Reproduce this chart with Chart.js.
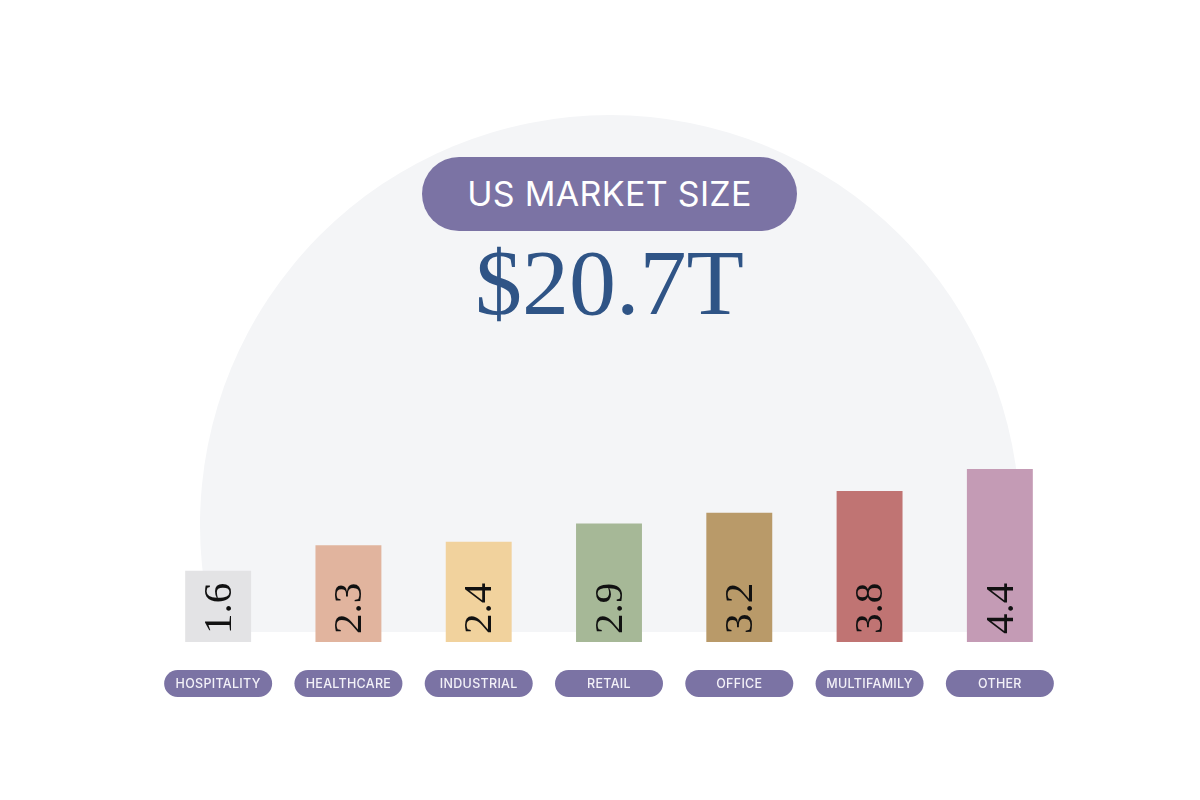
<!DOCTYPE html>
<html>
<head>
<meta charset="utf-8">
<script src="https://cdn.jsdelivr.net/npm/chart.js@4"></script>
<style>
  html, body { margin: 0; padding: 0; background: #ffffff; }
  #page { position: relative; width: 1200px; height: 800px; overflow: hidden; }
  #backdrop { position: absolute; left: 0; top: 0; width: 1200px; height: 632px; overflow: hidden; }
  #circle { position: absolute; left: 200px; top: 115px; width: 820px; height: 820px; border-radius: 50%; background: #f4f5f7; }
  #pill { position: absolute; left: 422px; top: 157px; width: 375px; height: 74px; border-radius: 37px; background: #7b73a4;
          color: #ffffff; font-family: Inter, "Open Sans", sans-serif; font-size: 34px; line-height: 74px; text-align: center; letter-spacing: 0.3px; }
  #total { position: absolute; left: 0; width: 1219px; top: 227px; text-align: center; color: #2f5486;
           font-family: "Liberation Serif", "DejaVu Serif", serif; font-size: 94px; line-height: 110px; }
  #chart { position: absolute; left: 0; top: 0; }
</style>
</head>
<body>
<div id="page">
  <div id="backdrop"><div id="circle"></div></div>
  <div id="pill">US MARKET SIZE</div>
  <div id="total">$20.7T</div>
  <canvas id="chart" width="1200" height="800"></canvas>
</div>
<script>
// Market size by sector ($T)
const categories = ["HOSPITALITY", "HEALTHCARE", "INDUSTRIAL", "RETAIL", "OFFICE", "MULTIFAMILY", "OTHER"];
const values = [1.6, 2.3, 2.4, 2.9, 3.2, 3.8, 4.4];
const barColors = ["#e3e3e5", "#e1b49e", "#f1d29d", "#a6b897", "#b99a69", "#c07473", "#c49bb5"];

const yMin = -0.36;
const yMax = 4.65;

/* =========================
   value labels inside bars (rotated)
========================= */
const barLabels = {
    id: "barLabels",
    afterDatasetsDraw(chart) {
        const ctx = chart.ctx;
        const meta = chart.getDatasetMeta(0);
        ctx.save();
        ctx.fillStyle = "#111111";
        ctx.font = "41px 'Liberation Serif', serif";
        ctx.textAlign = "left";
        ctx.textBaseline = "middle";
        meta.data.forEach((bar, i) => {
            ctx.save();
            ctx.translate(bar.x + 2, bar.base - 8);
            ctx.rotate(-Math.PI / 2);
            ctx.fillText(values[i].toFixed(1), 0, 0);
            ctx.restore();
        });
        ctx.restore();
    }
};

/* =========================
   category pills under the bars
========================= */
const categoryPills = {
    id: "categoryPills",
    afterDraw(chart) {
        const ctx = chart.ctx;
        const xScale = chart.scales.x;
        const w = 108, h = 27, cy = 683.5;
        ctx.save();
        categories.forEach((label, i) => {
            const cx = xScale.getPixelForValue(i);
            ctx.fillStyle = "#7b73a4";
            ctx.beginPath();
            ctx.roundRect(cx - w / 2, cy - h / 2, w, h, h / 2);
            ctx.fill();
            ctx.fillStyle = "#f3f1f8";
            ctx.font = "500 12.5px Inter, 'Open Sans', sans-serif";
            ctx.letterSpacing = "0.3px";
            ctx.textAlign = "center";
            ctx.textBaseline = "middle";
            ctx.fillText(label, cx, cy + 1);
        });
        ctx.restore();
    }
};

new Chart(document.getElementById("chart").getContext("2d"), {
    type: "bar",
    data: {
        labels: categories,
        datasets: [{
            data: values,
            backgroundColor: barColors,
            base: yMin,
            borderWidth: 0,
            barPercentage: 0.506,
            categoryPercentage: 1
        }]
    },
    options: {
        responsive: false,
        animation: false,
        events: [],
        layout: {
            padding: { left: 153, right: 135, top: 460, bottom: 158 }
        },
        plugins: {
            legend: { display: false },
            tooltip: { enabled: false }
        },
        scales: {
            x: { display: false },
            y: { display: false, min: yMin, max: yMax }
        }
    },
    plugins: [barLabels, categoryPills]
});
</script>
</body>
</html>
